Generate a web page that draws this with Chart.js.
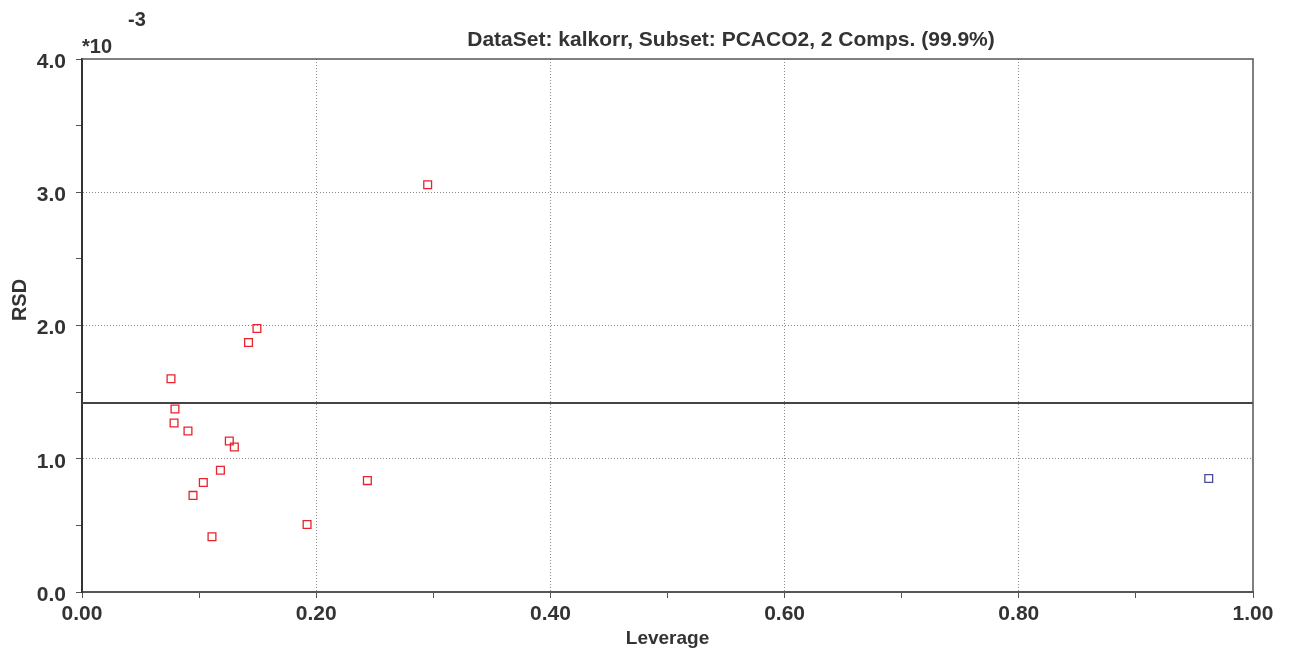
<!DOCTYPE html>
<html>
<head>
<meta charset="utf-8">
<script src="https://cdn.jsdelivr.net/npm/chart.js@4.4.1/dist/chart.umd.min.js"></script>
<style>
  html, body { margin: 0; padding: 0; background: #fff; }
  #wrap { width: 1292px; height: 650px; }
</style>
</head>
<body>
<div id="wrap"><canvas id="rsdChart"></canvas></div>
<script>
// leverage / RSD (x 10^-3)
const samplesLeverage = [0.2952, 0.1494, 0.1422, 0.0760, 0.0794, 0.0786, 0.0905, 0.1258, 0.1301, 0.1182, 0.1036, 0.0948, 0.1110, 0.1922, 0.2437];
const samplesRSD = [3.056, 1.978, 1.872, 1.600, 1.373, 1.268, 1.208, 1.133, 1.088, 0.914, 0.822, 0.725, 0.414, 0.507, 0.836];
const outlierLeverage = [0.9622];
const outlierRSD = [0.852];
const limitRSD = 1.418;
const xTicks = [0, 0.2, 0.4, 0.6, 0.8, 1.0];
const yTicks = [0, 1, 2, 3, 4];

const FONT = '"Liberation Sans", Arial, Helvetica, sans-serif';
const TEXT = '#333333';

const toPoints = (xs, ys) => xs.map((x, i) => ({ x: x, y: ys[i] }));

// frame, title, exponent and the y axis name
const decorations = {
    id: 'decorations',
    afterDraw(chart) {
        const { ctx, chartArea: a } = chart;
        ctx.save();
        ctx.strokeStyle = '#555';
        ctx.lineWidth = 1.5;
        ctx.beginPath();
        ctx.moveTo(a.left, a.top);
        ctx.lineTo(a.right, a.top);
        ctx.lineTo(a.right, a.bottom);
        ctx.stroke();

        ctx.fillStyle = TEXT;
        ctx.font = 'bold 21px ' + FONT;
        ctx.textAlign = 'center';
        ctx.textBaseline = 'middle';
        ctx.fillText('DataSet: kalkorr, Subset: PCACO2, 2 Comps. (99.9%)', 731, 40);

        ctx.textAlign = 'left';
        ctx.font = 'bold 20px ' + FONT;
        ctx.fillText('*10', a.left, 47);
        ctx.fillText('-3', 128, 20);

        ctx.translate(20, 300);
        ctx.rotate(-Math.PI / 2);
        ctx.textAlign = 'center';
        ctx.font = 'bold 20px ' + FONT;
        ctx.fillText('RSD', 0, 0);
        ctx.restore();
    }
};

new Chart(document.getElementById('rsdChart').getContext('2d'), {
    type: 'scatter',
    data: {
        datasets: [{
            data: toPoints(samplesLeverage, samplesRSD),
            pointStyle: 'rect',
            radius: 5.5,
            borderColor: '#e8232d',
            backgroundColor: 'rgba(0,0,0,0)',
            borderWidth: 1.3
        }, {
            data: toPoints(outlierLeverage, outlierRSD),
            pointStyle: 'rect',
            radius: 5.5,
            borderColor: '#4a4a9c',
            backgroundColor: 'rgba(0,0,0,0)',
            borderWidth: 1.3
        }, {
            type: 'line',
            data: [{ x: 0, y: limitRSD }, { x: 1, y: limitRSD }],
            borderColor: '#444',
            borderWidth: 2,
            pointRadius: 0
        }]
    },
    options: {
        responsive: true,
        maintainAspectRatio: false,
        animation: false,
        layout: { padding: { top: 59, right: 39, left: 0, bottom: 0 } },
        plugins: {
            legend: { display: false },
            tooltip: { enabled: false }
        },
        scales: {
            x: {
                type: 'linear',
                min: 0,
                max: 1,
                afterFit: s => { s.height = 58; },
                afterBuildTicks: s => {
                    s.ticks = [];
                    for (let i = 0; i <= 10; i++) s.ticks.push({ value: i / 10 });
                },
                ticks: {
                    autoSkip: false,
                    maxRotation: 0,
                    padding: 4,
                    color: TEXT,
                    font: { family: FONT, size: 21, weight: 'bold' },
                    callback: v => {
                        const t = xTicks.find(m => Math.abs(m - v) < 1e-6);
                        return t === undefined ? '' : t.toFixed(2);
                    }
                },
                grid: {
                    color: c => (c.tick && Math.abs(c.tick.value * 5 - Math.round(c.tick.value * 5)) < 1e-6 && c.tick.value > 0 && c.tick.value < 1) ? '#8a8a8a' : 'rgba(0,0,0,0)',
                    tickLength: 6,
                    tickColor: '#555',
                    tickBorderDash: []
                },
                border: { color: '#555', width: 2, dash: [1, 2] },
                title: {
                    display: true,
                    text: 'Leverage',
                    color: TEXT,
                    font: { family: FONT, size: 19, weight: 'bold' },
                    padding: { top: 0, bottom: 0 }
                }
            },
            y: {
                type: 'linear',
                min: 0,
                max: 4,
                afterFit: s => { s.width = 82; },
                afterBuildTicks: s => {
                    s.ticks = [];
                    for (let i = 0; i <= 8; i++) s.ticks.push({ value: i / 2 });
                },
                ticks: {
                    autoSkip: false,
                    padding: 10,
                    labelOffset: 3,
                    color: TEXT,
                    font: { family: FONT, size: 21, weight: 'bold' },
                    callback: v => {
                        const t = yTicks.find(m => Math.abs(m - v) < 1e-6);
                        return t === undefined ? '' : t.toFixed(1);
                    }
                },
                grid: {
                    color: c => (c.tick && Number.isInteger(c.tick.value) && c.tick.value > 0 && c.tick.value < 4) ? '#8a8a8a' : 'rgba(0,0,0,0)',
                    tickLength: 6,
                    tickColor: '#555',
                    tickBorderDash: []
                },
                border: { color: '#333', width: 2, dash: [1, 2] }
            }
        }
    },
    plugins: [decorations]
});
</script>
</body>
</html>
